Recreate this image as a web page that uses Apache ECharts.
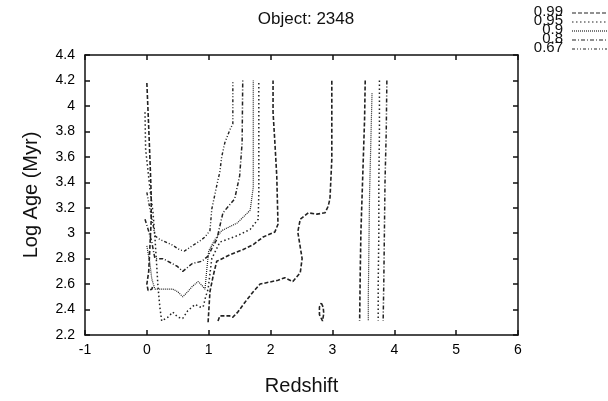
<!DOCTYPE html>
<html><head><meta charset="utf-8">
<script src="https://cdn.jsdelivr.net/npm/echarts@6/dist/echarts.min.js"></script>
<style>html,body{margin:0;padding:0;background:#fff}#c{width:608px;height:401px}</style>
</head><body><div id="c"></div>
<script>
// Axis ticks
const xTicks = [-1, 0, 1, 2, 3, 4, 5, 6];
const yTicks = [2.2, 2.4, 2.6, 2.8, 3, 3.2, 3.4, 3.6, 3.8, 4, 4.2, 4.4];
const levels = ['0.99', '0.95', '0.9', '0.8', '0.67'];

// Contour strokes [redshift, log age]
const c067_u = [[0,3.32],[0.05,3.19],[0.1,3.07],[0.13,2.98],[0.21,2.95],[0.26,2.94],[0.4,2.91],[0.53,2.87],[0.61,2.86],[0.73,2.9],[0.86,2.94],[0.94,2.97],[1.02,3.02],[1.05,3.19],[1.15,3.42],[1.18,3.48],[1.21,3.6],[1.26,3.71],[1.34,3.81],[1.39,3.86],[1.39,4.2]];
const c08_u = [[-0.03,3.11],[0.02,3.03],[0.08,2.93],[0.13,2.8],[0.26,2.8],[0.49,2.74],[0.58,2.7],[0.73,2.76],[0.89,2.78],[0.99,2.82],[1.05,2.88],[1.13,2.95],[1.23,3.16],[1.42,3.27],[1.5,3.45],[1.54,3.71],[1.55,4.2]];
const c09_u = [[0,2.9],[0.05,2.76],[0.08,2.64],[0.13,2.56],[0.26,2.56],[0.42,2.56],[0.5,2.54],[0.58,2.5],[0.66,2.54],[0.73,2.58],[0.83,2.62],[0.89,2.59],[0.94,2.56],[0.97,2.72],[1.0,2.86],[1.1,2.95],[1.21,3.02],[1.46,3.08],[1.67,3.18],[1.72,3.36],[1.72,4.2]];
const c095_u = [[-0.03,3.95],[-0.02,3.66],[0.05,3.35],[0.1,3.16],[0.13,2.97],[0.16,2.74],[0.18,2.58],[0.21,2.42],[0.24,2.31],[0.34,2.34],[0.42,2.38],[0.5,2.34],[0.58,2.33],[0.66,2.39],[0.78,2.44],[0.86,2.42],[0.91,2.42],[0.95,2.5],[0.99,2.56],[1.02,2.68],[1.05,2.8],[1.18,2.93],[1.46,2.98],[1.67,3.03],[1.8,3.11],[1.81,3.32],[1.81,4.2]];
const c099_left = [[0,4.18],[0.02,3.95],[0.04,3.71],[0.06,3.45],[0.07,3.3],[0.07,3.1],[0.05,2.9],[0.03,2.7],[0,2.6],[0.02,2.55],[0.08,2.56],[0.1,2.59]];
const c099_mid = [[0.99,2.3],[1.02,2.54],[1.07,2.66],[1.13,2.78],[1.18,2.79],[1.34,2.83],[1.55,2.87],[1.72,2.91],[1.88,2.97],[2.07,3.01],[2.12,3.07],[2.11,3.26],[2.1,3.45],[2.07,3.71],[2.04,3.95],[2.04,4.2]];
const c099_outer = [[1.15,2.31],[1.18,2.35],[1.34,2.35],[1.39,2.34],[1.47,2.38],[1.59,2.46],[1.72,2.54],[1.83,2.6],[2.12,2.63],[2.23,2.65],[2.36,2.62],[2.48,2.69],[2.51,2.8],[2.44,3.01],[2.48,3.11],[2.61,3.16],[2.75,3.15],[2.88,3.16],[2.93,3.21],[2.96,3.27],[2.99,3.58],[2.99,4.2]];
const c099_island = [[2.82,2.45],[2.85,2.42],[2.86,2.37],[2.84,2.31],[2.81,2.31],[2.79,2.36],[2.79,2.42],[2.82,2.45]];
const c099_strip = [[3.53,4.2],[3.52,3.9],[3.5,3.6],[3.48,3.3],[3.46,3.0],[3.45,2.7],[3.44,2.31]];
const c09_strip = [[3.64,4.1],[3.62,3.7],[3.6,3.3],[3.59,2.9],[3.58,2.5],[3.58,2.31]];
const c095_strip = [[3.76,4.2],[3.76,3.8],[3.75,3.4],[3.75,3.0],[3.74,2.6],[3.74,2.31]];
const c08_strip = [[3.88,4.2],[3.87,3.8],[3.85,3.4],[3.84,3.0],[3.83,2.6],[3.82,2.31]];

const dash = {'0.99':[4,2], '0.95':[1.5,2.5], '0.9':[1,1], '0.8':[4,2,1,2], '0.67':[3,2,1,2,1,2]};
const widths = {'0.99':1.6, '0.95':1.5, '0.9':1.2, '0.8':1.5, '0.67':1.4};
const strokes = [
  ['0.67', c067_u], ['0.8', c08_u], ['0.9', c09_u], ['0.95', c095_u],
  ['0.99', c099_left], ['0.99', c099_mid], ['0.99', c099_outer], ['0.99', c099_island],
  ['0.99', c099_strip], ['0.9', c09_strip], ['0.95', c095_strip], ['0.8', c08_strip]
];

const chart = echarts.init(document.getElementById('c'), null, {renderer: 'canvas'});
const FONT = 'Liberation Sans, Arial, sans-serif';
const fmt = v => String(+(+v).toFixed(1));
const axisLine = {show: true, onZero: false, lineStyle: {color: '#111', width: 1.5}};
const tick = {show: true, inside: true, length: 5, lineStyle: {color: '#111', width: 1.5}};

const legendGraphics = [];
levels.forEach((lv, i) => {
  const y = 12 + i * 9;
  legendGraphics.push({type: 'text', x: 563, y: y, style: {text: lv, font: '15px ' + FONT, fill: '#111', align: 'right', verticalAlign: 'middle'}});
  legendGraphics.push({type: 'line', shape: {x1: 572, y1: y + 1, x2: 607, y2: y + 1}, style: {stroke: '#222', lineWidth: 1.2, lineDash: dash[lv]}});
});

chart.setOption({
  animation: false,
  backgroundColor: '#fff',
  title: {text: 'Object: 2348', left: 301, top: 6, textAlign: 'center',
    textStyle: {fontFamily: FONT, fontSize: 17, fontWeight: 'normal', color: '#111'}},
  grid: {left: 85, right: 90, top: 55, bottom: 62},
  xAxis: [
    {type: 'value', min: -1, max: 6, interval: 1, position: 'bottom',
     name: 'Redshift', nameLocation: 'middle', nameGap: 41,
     nameTextStyle: {fontFamily: FONT, fontSize: 20, color: '#111'},
     axisLine: axisLine, axisTick: tick, splitLine: {show: false},
     axisLabel: {fontFamily: FONT, fontSize: 14, color: '#000', margin: 8, formatter: fmt}},
    {type: 'value', min: -1, max: 6, interval: 1, position: 'top',
     axisLine: axisLine, axisTick: tick, splitLine: {show: false}, axisLabel: {show: false}}
  ],
  yAxis: [
    {type: 'value', min: 2.2, max: 4.4, interval: 0.2, position: 'left',
     name: 'Log Age (Myr)', nameLocation: 'middle', nameGap: 44,
     nameTextStyle: {fontFamily: FONT, fontSize: 20, color: '#111'},
     axisLine: axisLine, axisTick: tick, splitLine: {show: false},
     axisLabel: {fontFamily: FONT, fontSize: 14, color: '#000', margin: 10, formatter: fmt}},
    {type: 'value', min: 2.2, max: 4.4, interval: 0.2, position: 'right',
     axisLine: axisLine, axisTick: tick, splitLine: {show: false}, axisLabel: {show: false}}
  ],
  graphic: legendGraphics,
  series: strokes.map(([lv, d]) => ({
    type: 'line', data: d, showSymbol: false, symbol: 'none', silent: true,
    lineStyle: {color: '#222', width: widths[lv], type: dash[lv]}
  }))
});
</script></body></html>
